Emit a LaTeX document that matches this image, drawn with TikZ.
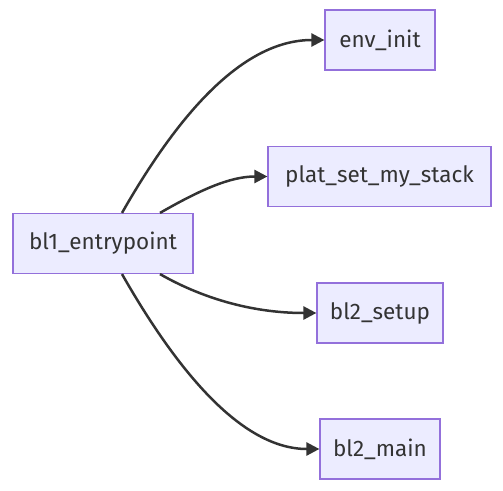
\documentclass[tikz,border=0pt]{standalone}
\usepackage{fontspec}
\setmainfont{Fira Sans}
\usetikzlibrary{arrows.meta}
\definecolor{boxfill}{HTML}{ECECFF}
\definecolor{boxline}{HTML}{9370DB}
\definecolor{edge}{HTML}{333333}
\tikzset{
  box/.style={draw=boxline, fill=boxfill, line width=1.2pt, text=edge, inner sep=0pt,
    minimum height=60pt, font=\fontsize{22.5}{26}\selectfont},
  conn/.style={draw=edge, line width=2.5pt, -{Triangle[length=13pt,width=13pt]}}
}
\begin{document}
\begin{tikzpicture}[x=1pt,y=-1pt]
\useasboundingbox (0,0) rectangle (503,490);
\node[box, minimum width=180pt] (bl1) at (103,243.5) {bl1\_entrypoint};
\node[box, minimum width=110pt] (env) at (380,40) {env\_init};
\node[box, minimum width=223pt] (plat) at (379.5,176.5) {plat\_set\_my\_stack};
\node[box, minimum width=126pt] (setup) at (380,313) {bl2\_setup};
\node[box, minimum width=120pt] (main) at (380,449) {bl2\_main};
\draw[conn] ([xshift=19pt]bl1.north) .. controls (175,120) and (240,40) .. (env.west);
\draw[conn] ([xshift=57pt]bl1.north) .. controls (200,190) and (230,176.5) .. (plat.west);
\draw[conn] ([xshift=57pt]bl1.south) .. controls (200,297) and (250,313) .. (setup.west);
\draw[conn] ([xshift=19pt]bl1.south) .. controls (175,367) and (240,449) .. (main.west);
\end{tikzpicture}
\end{document}
